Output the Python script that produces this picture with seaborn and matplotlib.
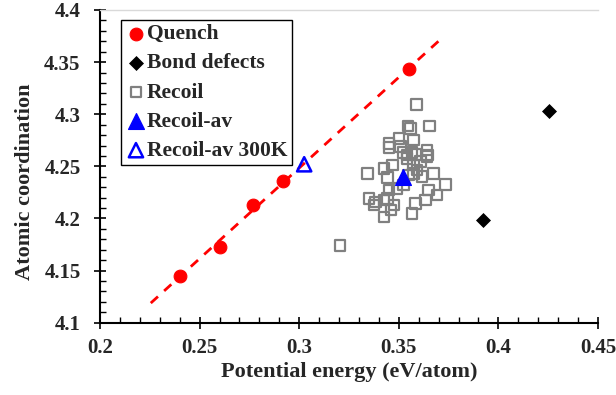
import numpy as np
import seaborn as sns
import matplotlib.pyplot as plt
from matplotlib.ticker import MultipleLocator

sns.set_style('white')
plt.rcParams['font.family'] = ['Liberation Serif', 'DejaVu Serif']
plt.rcParams['font.weight'] = 'bold'

# data
quench_x = [0.240, 0.260, 0.277, 0.292, 0.355]
quench_y = [4.145, 4.173, 4.213, 4.236, 4.343]

bond_x = [0.4254, 0.3924]
bond_y = [4.303, 4.199]

recoil_x = [0.3589, 0.3655, 0.3547, 0.3559, 0.3575, 0.3500, 0.3450, 0.3450, 0.3509,
            0.3525, 0.3567, 0.3584, 0.3642, 0.3645, 0.3542, 0.3342, 0.3425, 0.3467,
            0.3442, 0.3450, 0.3350, 0.3384, 0.3425, 0.3442, 0.3475, 0.3375, 0.3425,
            0.3567, 0.3584, 0.3634, 0.3650, 0.3692, 0.3734, 0.3675, 0.3617, 0.3575,
            0.3550, 0.3525, 0.3575, 0.3609, 0.3642, 0.3542, 0.3592, 0.3205, 0.3460,
            0.3490]
recoil_y = [4.3095, 4.2887, 4.2887, 4.2865, 4.2752, 4.2769, 4.2721, 4.2679, 4.2688,
            4.2634, 4.2634, 4.2615, 4.2656, 4.2608, 4.2608, 4.2433, 4.2481, 4.2513,
            4.2391, 4.2273, 4.2193, 4.2160, 4.2177, 4.2193, 4.2129, 4.2129, 4.2016,
            4.2049, 4.2145, 4.2177, 4.2273, 4.2225, 4.2327, 4.2433, 4.2400, 4.2433,
            4.2417, 4.2321, 4.2512, 4.2544, 4.2592, 4.2577, 4.2464, 4.1738, 4.2080,
            4.2290]

recoil_av_x = [0.352]
recoil_av_y = [4.240]

recoil_300_x = [0.3025]
recoil_300_y = [4.252]

fit_range = [0.2255, 0.370]

fig, ax = plt.subplots(figsize=(6.16, 3.95), dpi=100)
fig.subplots_adjust(left=0.1623, right=0.9708, bottom=0.183, top=0.9747)

# linear trend through quench points
k, b = np.polyfit(quench_x, quench_y, 1)
fx = np.array(fit_range)
ax.plot(fx, k * fx + b, color='red', ls=(0, (3.5, 3)), lw=2, zorder=1)

sns.scatterplot(x=recoil_x, y=recoil_y, ax=ax, marker='s', s=58,
                facecolor='none', edgecolor='#808080', linewidth=1.6,
                label='Recoil', zorder=2)
sns.scatterplot(x=quench_x, y=quench_y, ax=ax, marker='o', s=85,
                color='#ff0000', edgecolor='#ff0000', label='Quench', zorder=3)
sns.scatterplot(x=bond_x, y=bond_y, ax=ax, marker='D', s=50,
                color='black', edgecolor='black', label='Bond defects', zorder=3)
sns.scatterplot(x=recoil_av_x, y=recoil_av_y, ax=ax, marker='^', s=130,
                color='#0000ff', edgecolor='#0000ff', label='Recoil-av', zorder=4)
sns.scatterplot(x=recoil_300_x, y=recoil_300_y, ax=ax, marker='^', s=105,
                facecolor='none', edgecolor='#0000ff', linewidth=1.8,
                label='Recoil-av 300K', zorder=4)

ax.set_xlim(0.2, 0.45)
ax.set_ylim(4.1, 4.4)
ax.xaxis.set_minor_locator(MultipleLocator(0.01))
ax.yaxis.set_minor_locator(MultipleLocator(0.01))
ax.set_xticks(np.arange(0.2, 0.451, 0.05))
ax.set_xticklabels(['0.2', '0.25', '0.3', '0.35', '0.4', '0.45'])
ax.set_yticks(np.arange(4.1, 4.401, 0.05))
ax.set_yticklabels(['4.1', '4.15', '4.2', '4.25', '4.3', '4.35', '4.4'])

ax.tick_params(which='major', direction='inout', length=8, width=1.2,
               labelsize=15, color='black')
ax.tick_params(which='minor', direction='in', length=4.5, width=1, color='black')
ax.tick_params(axis='x', which='both', bottom=True, top=False)
ax.tick_params(axis='x', which='major', pad=7)
ax.tick_params(axis='y', which='both', left=True, right=False)
ax.tick_params(axis='y', which='major', pad=10)
for lab in ax.get_xticklabels() + ax.get_yticklabels():
    lab.set_fontweight('bold')

for side in ['left', 'bottom']:
    ax.spines[side].set_color('black')
    ax.spines[side].set_linewidth(1.5)
ax.spines['right'].set_visible(False)
ax.spines['top'].set_color('#d9d9d9')
ax.spines['top'].set_linewidth(1)

ax.set_xlabel('Potential energy (eV/atom)', fontsize=16, fontweight='bold', labelpad=3)
ax.set_ylabel('Atomic coordination', fontsize=16, fontweight='bold')
ax.yaxis.set_label_coords(-0.13, 0.45)

handles, labels = ax.get_legend_handles_labels()
order = ['Quench', 'Bond defects', 'Recoil', 'Recoil-av', 'Recoil-av 300K']
hmap = dict(zip(labels, handles))
leg = ax.legend([hmap[o] for o in order], order, loc='upper left',
                bbox_to_anchor=(0.042, 0.968), frameon=True, fancybox=False,
                edgecolor='black', framealpha=1, handletextpad=0.0,
                handlelength=1.0, borderpad=0.2, labelspacing=0.42,
                borderaxespad=0, prop={'weight': 'bold', 'size': 15.5})
leg.get_frame().set_linewidth(1)

plt.savefig('out.png', dpi=100)
